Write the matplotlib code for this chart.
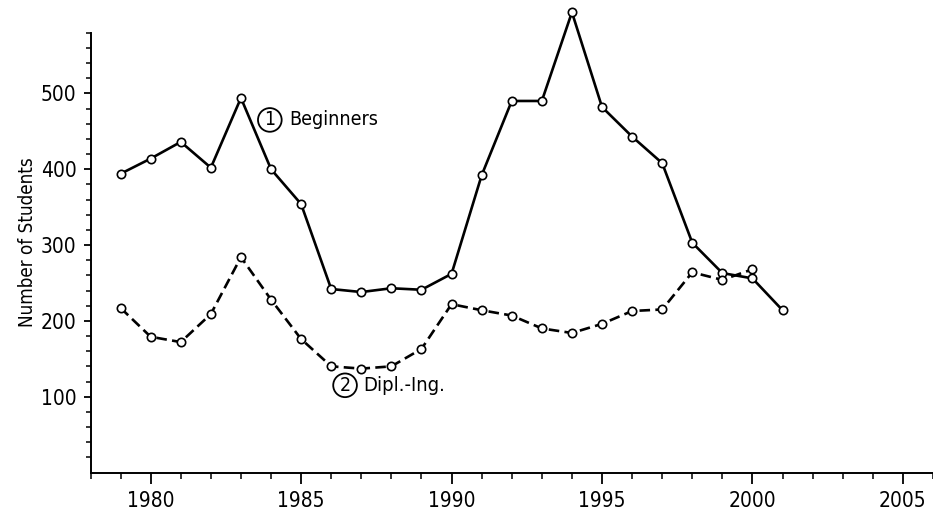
import matplotlib
matplotlib.use("Agg")
import matplotlib.pyplot as plt
from matplotlib.ticker import MultipleLocator
from matplotlib import font_manager

years = list(range(1979, 2002))
beginners = [394, 414, 436, 402, 494, 400, 354, 242, 238, 243, 241, 262,
             392, 490, 490, 607, 482, 443, 408, 303, 263, 256, 214]
dipl_years = list(range(1979, 2001))
dipl_ing = [217, 179, 172, 209, 284, 228, 176, 140, 137, 140, 163, 222,
            214, 207, 190, 184, 196, 213, 215, 264, 254, 268]
xticks = [1980, 1985, 1990, 1995, 2000, 2005]
yticks = [100, 200, 300, 400, 500]

# look for a narrow / condensed regular font
font_prop = None
for f in font_manager.fontManager.ttflist:
    nm = f.name.lower()
    st = str(f.stretch).lower()
    if (('condensed' in st or 'narrow' in nm or 'condensed' in nm)
            and f.style == 'normal' and str(f.weight) in ('400', 'normal', 'regular')):
        font_prop = font_manager.FontProperties(fname=f.fname)
        break
if font_prop is None:
    font_prop = font_manager.FontProperties(family='DejaVu Sans', stretch='condensed')

def fp(size):
    p = font_prop.copy()
    p.set_size(size)
    return p

fig = plt.figure(figsize=(9.33, 5.14), dpi=100)
ax = fig.add_axes([90.5/933, 1-472.5/514, 1-90.5/933, (472.5-2.4)/514])

ax.plot(years, beginners, '-', color='black', lw=1.9, marker='o', ms=6,
        mfc='white', mec='black', mew=1.2, clip_on=False, zorder=3)
ax.plot(dipl_years, dipl_ing, color='black', lw=1.9, ls=(0, (4, 2)), marker='o',
        ms=6, mfc='white', mec='black', mew=1.2, clip_on=False, zorder=3)

ax.set_xlim(1978, 2006)
ax.set_ylim(0, 620)
ax.spines['top'].set_visible(False)
ax.spines['right'].set_visible(False)
ax.spines['left'].set_bounds(0, 580)
for s in ('left', 'bottom'):
    ax.spines[s].set_linewidth(1.4)

ax.set_xticks(xticks)
ax.set_xticklabels([str(t) for t in xticks], fontproperties=fp(15))
ax.xaxis.set_minor_locator(MultipleLocator(1))
ax.set_yticks(yticks)
ax.set_yticklabels([str(t) for t in yticks], fontproperties=fp(15))
ax.set_yticks(list(range(20, 581, 20)), minor=True)
ax.tick_params(axis='x', which='major', direction='out', length=8, width=1.3, pad=5)
ax.tick_params(axis='x', which='minor', direction='out', length=4, width=1.1)
ax.tick_params(axis='y', which='major', direction='out', length=5, width=1.3, pad=5)
ax.tick_params(axis='y', which='minor', direction='out', length=3.5, width=1.1)

ax.set_ylabel('Number of Students', fontproperties=fp(13.5))
ax.yaxis.set_label_coords(-0.064, 0.49)

circ = dict(boxstyle='circle,pad=0.12', fc='white', ec='black', lw=1.3)
ax.text(1983.96, 465, '1', fontproperties=fp(14), ha='center', va='center', bbox=circ)
ax.text(1984.6, 465, 'Beginners', fontproperties=fp(14), ha='left', va='center')
ax.text(1986.46, 115, '2', fontproperties=fp(14), ha='center', va='center', bbox=circ)
ax.text(1987.05, 115, 'Dipl.-Ing.', fontproperties=fp(14.5), ha='left', va='center')

fig.savefig('out.png', dpi=100)
